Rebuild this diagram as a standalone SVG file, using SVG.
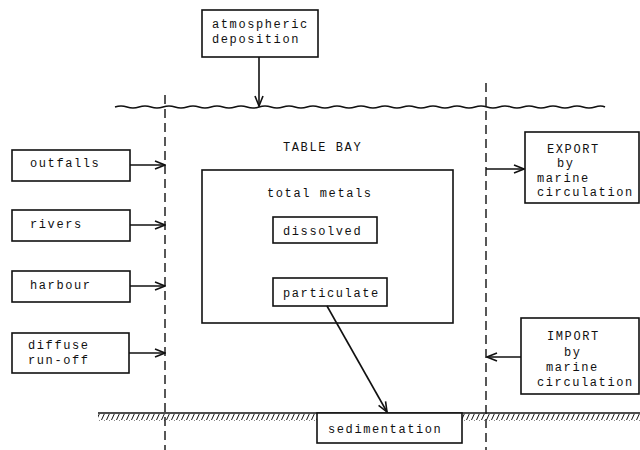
<svg xmlns="http://www.w3.org/2000/svg" width="640" height="450" viewBox="0 0 640 450">
<style>
text{font-family:"Liberation Mono","DejaVu Sans Mono",monospace;font-size:12px;letter-spacing:1.6px;fill:#111}
.box{fill:#fff;stroke:#111;stroke-width:1.6}
.ln{fill:none;stroke:#111;stroke-width:1.6}
.dash{fill:none;stroke:#111;stroke-width:1.4;stroke-dasharray:9 5}
</style>
<defs>
<marker id="ah" viewBox="0 0 12 10" refX="11" refY="5" markerWidth="12" markerHeight="10" markerUnits="userSpaceOnUse" orient="auto">
<path d="M1,1 L11,5 L1,9" fill="none" stroke="#111" stroke-width="1.6"/>
</marker>
<pattern id="hatch" patternUnits="userSpaceOnUse" x="0" y="413" width="5" height="7">
<path d="M4.5,0.5 L1.5,7" stroke="#111" stroke-width="1"/>
</pattern>
</defs>

<g id="boundaries">
<path class="dash" d="M165,95 V450"/>
<path class="dash" d="M486,83 V450"/>
<path class="ln" d="M115,107 q6,-2 12,0 t12,0 t12,0 t12,0 t12,0 t12,0 t12,0 t12,0 t12,0 t12,0 t12,0 t12,0 t12,0 t12,0 t12,0 t12,0 t12,0 t12,0 t12,0 t12,0 t12,0 t12,0 t12,0 t12,0 t12,0 t12,0 t12,0 t12,0 t12,0 t12,0 t12,0 t12,0 t12,0 t12,0 t12,0 t12,0 t12,0 t12,0 t12,0 t12,0 t10,0"/>
<path class="ln" d="M98,413 H640"/>
<rect x="98" y="414" width="219" height="7" fill="url(#hatch)"/>
<rect x="462" y="414" width="178" height="7" fill="url(#hatch)"/>
<text x="283" y="151">TABLE BAY</text>
</g>

<g id="atmospheric">
<rect class="box" x="202" y="10" width="116" height="47"/>
<text x="212" y="28">atmospheric</text>
<text x="212" y="43">deposition</text>
</g>

<g id="outfalls">
<rect class="box" x="12" y="150" width="118" height="31"/>
<text x="30" y="167">outfalls</text>
</g>
<g id="rivers">
<rect class="box" x="12" y="210" width="118" height="31"/>
<text x="30" y="228">rivers</text>
</g>
<g id="harbour">
<rect class="box" x="12" y="271" width="118" height="31"/>
<text x="30" y="289">harbour</text>
</g>
<g id="diffuse">
<rect class="box" x="12" y="333" width="117" height="40"/>
<text x="28" y="349">diffuse</text>
<text x="28" y="364">run-off</text>
</g>

<g id="totalmetals">
<rect class="box" x="202" y="170" width="251" height="153"/>
<text x="267" y="197">total metals</text>
</g>
<g id="dissolved">
<rect class="box" x="273" y="217" width="104" height="26"/>
<text x="283" y="235">dissolved</text>
</g>
<g id="particulate">
<rect class="box" x="273" y="278" width="114" height="28"/>
<text x="283" y="297">particulate</text>
</g>

<g id="export">
<rect class="box" x="525" y="132" width="114" height="71"/>
<text x="547" y="153">EXPORT</text>
<text x="557" y="167">by</text>
<text x="537" y="182">marine</text>
<text x="537" y="196">circulation</text>
</g>
<g id="import">
<rect class="box" x="521" y="318" width="118" height="76"/>
<text x="547" y="340">IMPORT</text>
<text x="564" y="356">by</text>
<text x="546" y="371">marine</text>
<text x="537" y="386">circulation</text>
</g>

<g id="sedimentation">
<rect class="box" x="317" y="413" width="145" height="30"/>
<text x="328" y="433">sedimentation</text>
</g>

<g id="connectors">
<path class="ln" d="M259,57 V106" marker-end="url(#ah)"/>
<path class="ln" d="M130,165 H165" marker-end="url(#ah)"/>
<path class="ln" d="M130,225 H165" marker-end="url(#ah)"/>
<path class="ln" d="M130,286 H165" marker-end="url(#ah)"/>
<path class="ln" d="M129,353 H165" marker-end="url(#ah)"/>
<path class="ln" d="M486,169 H524" marker-end="url(#ah)"/>
<path class="ln" d="M521,357 H487" marker-end="url(#ah)"/>
<path class="ln" d="M327,306 L387,412" marker-end="url(#ah)"/>
</g>
</svg>
